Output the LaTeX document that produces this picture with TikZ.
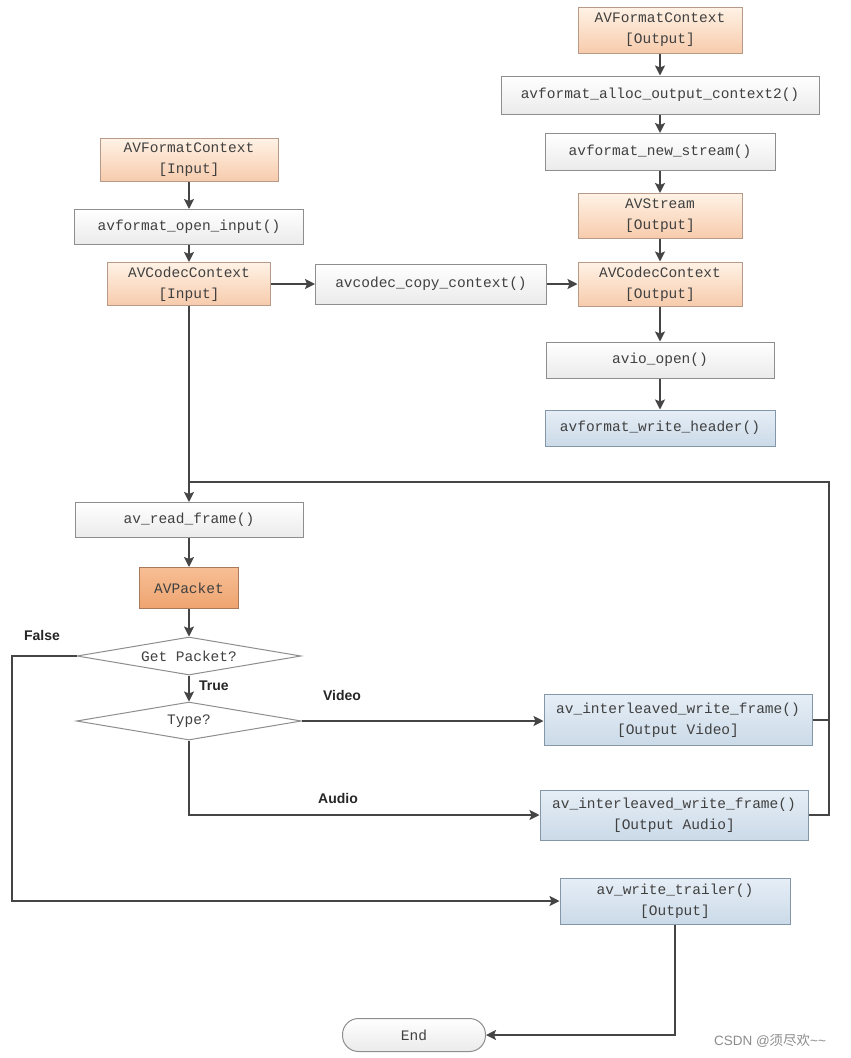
\documentclass[tikz,border=0pt]{standalone}
\usepackage{fontspec}
\setmonofont{Liberation Mono}
\newfontfamily\labfont{Liberation Sans}
\newfontfamily\cjkfont{Noto Sans CJK SC}
\usetikzlibrary{shapes.geometric,arrows.meta}
\definecolor{txt}{HTML}{404040}
\definecolor{ln}{HTML}{454545}
\definecolor{gborder}{HTML}{8E8E8E}
\definecolor{oborder}{HTML}{B89A88}
\definecolor{bborder}{HTML}{8497A8}
\tikzset{
  box/.style={rectangle, draw=gborder, line width=1pt, inner sep=0pt, align=center,
    font=\ttfamily\fontsize{14.5}{21}\selectfont, text=txt},
  wbox/.style={box, top color=white, bottom color=black!8},
  obox/.style={box, draw=oborder, top color=orange!10!white, bottom color={rgb,255:red,247;green,203;blue,172}},
  pbox/.style={box, draw={rgb,255:red,170;green,120;blue,90}, top color={rgb,255:red,247;green,190;blue,148}, bottom color={rgb,255:red,238;green,164;blue,112}},
  bbox/.style={box, draw=bborder, top color={rgb,255:red,230;green,238;blue,246}, bottom color={rgb,255:red,203;green,218;blue,232}},
  dec/.style={diamond, draw=gborder, line width=1pt, inner sep=0pt, shape aspect=5.9,
    fill=white, font=\ttfamily\fontsize{14.5}{18}\selectfont, text=txt},
  pill/.style={box, rounded corners=16pt, top color=white, bottom color=black!8},
  conn/.style={draw=ln, line width=1.7pt, -{Stealth[length=10pt,width=10pt,inset=2pt]}},
  line/.style={draw=ln, line width=1.7pt},
  lab/.style={font=\labfont\bfseries\fontsize{14}{16}\selectfont, text=black!85},
}
\begin{document}
\begin{tikzpicture}[x=1pt,y=-1pt]
\useasboundingbox (0,0) rectangle (851,1058);
% right column
\node[obox, minimum width=164, minimum height=46] (fo) at (660,30) {AVFormatContext\\{[}Output{]}};
\node[wbox, minimum width=318, minimum height=38] (alloc) at (660,95) {avformat\_alloc\_output\_context2()};
\node[wbox, minimum width=230, minimum height=37] (news) at (660,152) {avformat\_new\_stream()};
\node[obox, minimum width=164, minimum height=45] (avs) at (660,216) {AVStream\\{[}Output{]}};
\node[obox, minimum width=164, minimum height=44] (cco) at (660,284) {AVCodecContext\\{[}Output{]}};
\node[wbox, minimum width=228, minimum height=36] (avio) at (660,360) {avio\_open()};
\node[bbox, minimum width=230, minimum height=36] (hdr) at (660,428) {avformat\_write\_header()};
% left column
\node[obox, minimum width=178, minimum height=43] (fi) at (189,160) {AVFormatContext\\{[}Input{]}};
\node[wbox, minimum width=229, minimum height=35] (open) at (189,227) {avformat\_open\_input()};
\node[obox, minimum width=163, minimum height=43] (cci) at (189,284) {AVCodecContext\\{[}Input{]}};
\node[wbox, minimum width=231, minimum height=40] (copy) at (431,284) {avcodec\_copy\_context()};
\node[wbox, minimum width=228, minimum height=35] (read) at (189,520) {av\_read\_frame()};
\node[pbox, minimum width=99, minimum height=41] (pkt) at (189,588) {AVPacket};
\node[dec, minimum width=224, minimum height=38] (get) at (189,656) {Get Packet?};
\node[dec, minimum width=225, minimum height=38] (type) at (189,721) {Type?};
\node[bbox, minimum width=268, minimum height=51] (video) at (678,720) {av\_interleaved\_write\_frame()\\{[}Output Video{]}};
\node[bbox, minimum width=268, minimum height=50] (audio) at (674,815) {av\_interleaved\_write\_frame()\\{[}Output Audio{]}};
\node[bbox, minimum width=230, minimum height=46] (trl) at (675,901) {av\_write\_trailer()\\{[}Output{]}};
\node[pill, minimum width=143, minimum height=33] (end) at (414,1035) {End};
% coordinates
\coordinate (loopR) at (829,482);
\coordinate (loopL) at (189,482);
\coordinate (falseL) at (12,656);
% connectors
\draw[conn] (fo) -- (alloc);
\draw[conn] (alloc) -- (news);
\draw[conn] (news) -- (avs);
\draw[conn] (avs) -- (cco);
\draw[conn] (cco) -- (avio);
\draw[conn] (avio) -- (hdr);
\draw[conn] (fi) -- (open);
\draw[conn] (open) -- (cci);
\draw[conn] (cci) -- (copy);
\draw[conn] (copy) -- (cco);
\draw[conn] (cci) -- (read);
\draw[conn] (read) -- (pkt);
\draw[conn] (pkt) -- (get);
\draw[conn] (get) -- node[lab, right=6pt, pos=0.4] {True} (type);
\draw[conn] (type.east) -- (type.east -| video.west);
\draw[conn] (type.south) |- (audio.west);
\draw[line] (video.east) -- (video.east -| loopR);
\draw[line] (audio.east) -| (loopR) -- (loopL);
\draw[conn] (get.west) -- (falseL) |- (trl.west);
\draw[conn] (trl.south) |- (end.east);
% labels
\node[lab] (lfalse) at (42,635) {False};
\node[lab] (lvideo) at (342,695) {Video};
\node[lab] (laudio) at (338,798) {Audio};
\node[text=black!45, font=\fontsize{13.5}{16}\selectfont] (wm) at (770,1041) {\labfont CSDN @\cjkfont 须尽欢\labfont\textasciitilde\textasciitilde};
\end{tikzpicture}
\end{document}
